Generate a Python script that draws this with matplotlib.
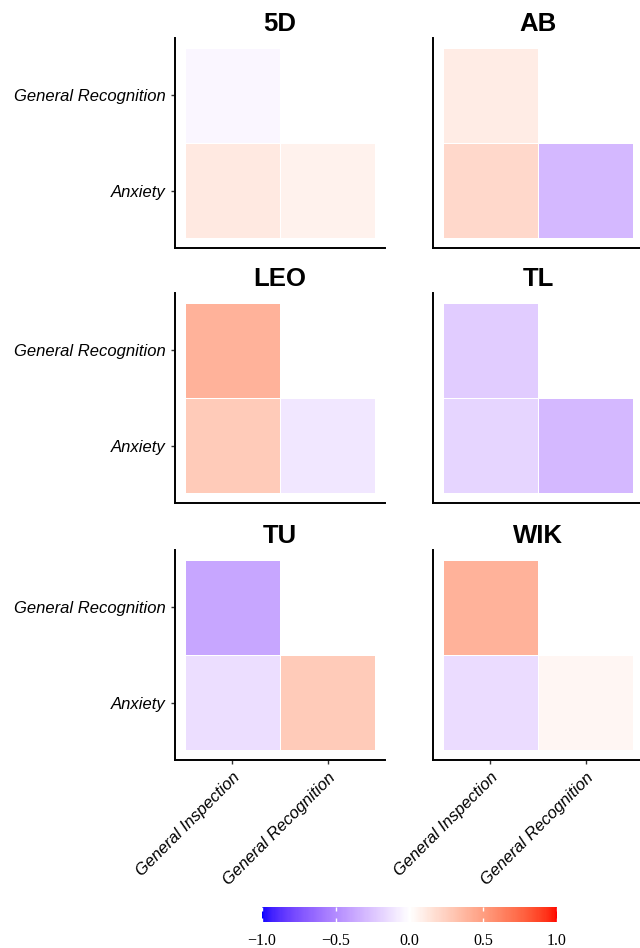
import numpy as np
import matplotlib
matplotlib.use('Agg')
import matplotlib.pyplot as plt
from matplotlib.colors import ListedColormap, Normalize
from matplotlib.cm import ScalarMappable

# correlation values
panels = ['5D', 'AB', 'LEO', 'TL', 'TU', 'WIK']
col_labels = ['General Inspection', 'General Recognition']
row_labels = ['Anxiety', 'General Recognition']  # bottom to top

# [GenRec~GenInsp, Anxiety~GenInsp, Anxiety~GenRec]
gr_gi = [-0.04, 0.10, 0.40, -0.22, -0.38, 0.40]
an_gi = [0.12, 0.20, 0.27, -0.18, -0.14, -0.15]
an_gr = [0.07, -0.30, -0.10, -0.30, 0.27, 0.05]


def srgb_to_lab(rgb):
    rgb = np.asarray(rgb, dtype=float)
    lin = np.where(rgb <= 0.04045, rgb / 12.92, ((rgb + 0.055) / 1.055) ** 2.4)
    M = np.array([[0.4124, 0.3576, 0.1805],
                  [0.2126, 0.7152, 0.0722],
                  [0.0193, 0.1192, 0.9505]])
    xyz = M @ lin / np.array([0.95047, 1.0, 1.08883])
    f = np.where(xyz > 0.008856, np.cbrt(xyz), 7.787 * xyz + 16 / 116)
    return np.array([116 * f[1] - 16, 500 * (f[0] - f[1]), 200 * (f[1] - f[2])])


def lab_to_srgb(lab):
    L, a, b = lab
    fy = (L + 16) / 116
    fx = fy + a / 500
    fz = fy - b / 200
    f = np.array([fx, fy, fz])
    xyz = np.where(f ** 3 > 0.008856, f ** 3, (f - 16 / 116) / 7.787)
    xyz = xyz * np.array([0.95047, 1.0, 1.08883])
    Minv = np.linalg.inv(np.array([[0.4124, 0.3576, 0.1805],
                                   [0.2126, 0.7152, 0.0722],
                                   [0.0193, 0.1192, 0.9505]]))
    lin = np.clip(Minv @ xyz, 0, 1)
    rgb = np.where(lin <= 0.0031308, lin * 12.92, 1.055 * lin ** (1 / 2.4) - 0.055)
    return np.clip(rgb, 0, 1)


# blue - white - red gradient interpolated in Lab, like ggplot's gradient2
lab_low = srgb_to_lab([0, 0, 1])
lab_mid = srgb_to_lab([1, 1, 1])
lab_high = srgb_to_lab([1, 0, 0])
colors = []
for v in np.linspace(-1, 1, 257):
    if v < 0:
        lab = lab_mid + (-v) * (lab_low - lab_mid)
    else:
        lab = lab_mid + v * (lab_high - lab_mid)
    colors.append(lab_to_srgb(lab))
cmap = ListedColormap(colors)
norm = Normalize(-1, 1)

fig = plt.figure(figsize=(6.4, 9.48), dpi=100)
sans = 'Liberation Sans'

lefts = [175 / 640, 433 / 640]
bottoms = [(948 - 248) / 948, (948 - 503) / 948, (948 - 760) / 948]
w = 210 / 640
h = 210 / 948

edges = np.array([0.5, 1.5, 2.5])
for i, name in enumerate(panels):
    r, c = divmod(i, 2)
    ax = fig.add_axes([lefts[c], bottoms[r], w, h])
    z = np.array([[an_gi[i], an_gr[i]],
                  [gr_gi[i], np.nan]])
    z = np.ma.masked_invalid(z)
    ax.pcolormesh(edges, edges, z, cmap=cmap, norm=norm,
                  edgecolor='white', linewidth=0.4)
    ax.set_xlim(0.4, 2.6)
    ax.set_ylim(0.4, 2.6)
    ax.set_title(name, fontsize=18.5, fontweight='bold', family=sans, pad=5)
    for s in ['top', 'right']:
        ax.spines[s].set_visible(False)
    for s in ['left', 'bottom']:
        ax.spines[s].set_linewidth(1.4)
    ax.tick_params(length=3, width=1, color='#333333', pad=4)
    ax.set_xticks([1, 2])
    ax.set_yticks([1, 2])
    if c == 0:
        ax.set_yticklabels(row_labels, fontsize=12, style='italic', family=sans)
    else:
        ax.set_yticklabels([])
        ax.tick_params(axis='y', length=0)
    if r == 2:
        ax.set_xticklabels(col_labels, fontsize=12, style='italic', family=sans,
                           rotation=45, ha='right', rotation_mode='anchor')
    else:
        ax.set_xticklabels([])
        ax.tick_params(axis='x', length=0)

cax = fig.add_axes([262 / 640, (948 - 922) / 948, 295 / 640, 15 / 948])
cb = fig.colorbar(ScalarMappable(norm=norm, cmap=cmap), cax=cax, orientation='horizontal')
cb.outline.set_visible(False)
cb.set_ticks([-1.0, -0.5, 0.0, 0.5, 1.0])
cb.set_ticklabels(['\u22121.0', '\u22120.5', '0.0', '0.5', '1.0'])
cax.tick_params(direction='in', color='white', length=3, width=1, top=True,
                bottom=True, labelsize=11.5, pad=8)
for t in cax.get_xticklabels():
    t.set_family('Liberation Serif')

fig.savefig('out.png', dpi=100)
